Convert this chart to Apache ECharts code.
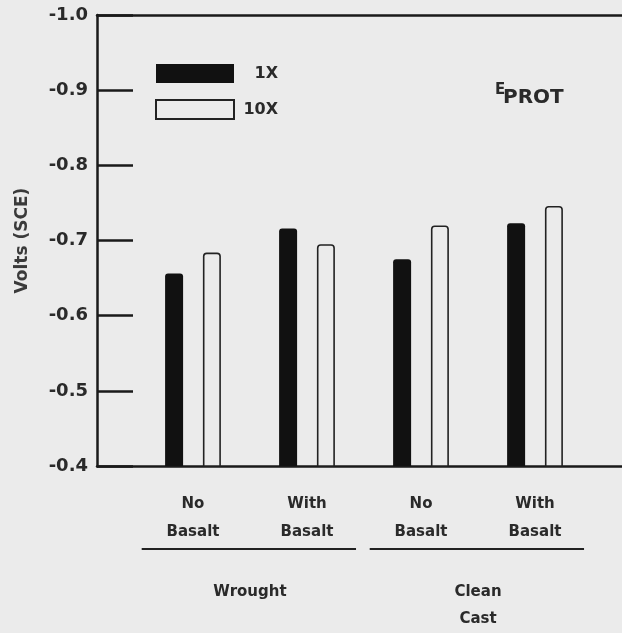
<!DOCTYPE html>
<html>
<head>
<meta charset="utf-8">
<script src="https://cdn.jsdelivr.net/npm/echarts@6/dist/echarts.min.js"></script>
<style>
html,body{margin:0;padding:0;background:#ebebeb;}
#chart{width:622px;height:633px;}
</style>
</head>
<body>
<div id="chart"></div>
<script>
// ---- data ----
const categories = ['No\nBasalt', 'With\nBasalt', 'No\nBasalt', 'With\nBasalt'];
const groups = ['Wrought', 'Clean\nCast'];
const groupSpans = [[0, 1], [2, 3]];
const seriesNames = ['1X', '10X'];
const values1X = [-0.656, -0.716, -0.675, -0.723];
const values10X = [-0.684, -0.695, -0.720, -0.746];
const yTicks = [-1.0, -0.9, -0.8, -0.7, -0.6, -0.5, -0.4];

const BG = '#ebebeb';
const INK = '#1a1a1a';
const TXT = '#2a2a2a';
const FONT = 'DejaVu Sans, sans-serif';

const catPos = categories.map((c, i) => i + 1);
const groupPos = groupSpans.map(s => (catPos[s[0]] + catPos[s[1]]) / 2);

const chart = echarts.init(document.getElementById('chart'), null, {renderer: 'canvas'});

const xMin = 0.158, xMax = 4.763;

const option = {
  backgroundColor: BG,
  animation: false,
  textStyle: {fontFamily: FONT},
  title: [
    {text: 'E', left: 490, top: 78, textStyle: {fontFamily: FONT, fontSize: 15, fontWeight: 'bold', color: TXT}},
    {text: 'PROT', left: 498, top: 83, textStyle: {fontFamily: FONT, fontSize: 20, fontWeight: 'bold', color: TXT}}
  ],
  legend: {
    data: seriesNames,
    orient: 'vertical',
    left: 150,
    top: 59,
    itemWidth: 78,
    itemHeight: 19,
    itemGap: 16,
    icon: 'rect',
    selectedMode: false,
    formatter: n => '{t|' + n + '}',
    textStyle: {
      fontFamily: FONT, fontSize: 16, fontWeight: 'bold', color: TXT,
      rich: {t: {fontFamily: FONT, fontSize: 16, fontWeight: 'bold', color: TXT, width: 39, align: 'right'}}
    }
  },
  grid: {left: 97, right: 0, top: 15, bottom: 159, containLabel: false},
  xAxis: [
    {
      type: 'value', min: xMin, max: xMax, position: 'bottom',
      axisLine: {show: true, onZero: false, lineStyle: {color: INK, width: 2.5}},
      axisTick: {show: false},
      splitLine: {show: false},
      axisLabel: {
        customValues: catPos,
        formatter: v => categories[Math.round(v) - 1] || '',
        fontFamily: FONT, fontSize: 15, fontWeight: 'bold', color: TXT,
        lineHeight: 28, margin: 24
      }
    },
    {
      type: 'value', min: xMin, max: xMax, position: 'bottom', offset: 105,
      axisLine: {show: false},
      axisTick: {show: false},
      splitLine: {show: false},
      axisLabel: {
        customValues: groupPos,
        formatter: v => { const i = groupPos.findIndex(p => Math.abs(p - v) < 1e-6); return i >= 0 ? groups[i] : ''; },
        fontFamily: FONT, fontSize: 15, fontWeight: 'bold', color: TXT,
        lineHeight: 27, margin: 8
      }
    },
    {
      type: 'value', min: xMin, max: xMax, position: 'top',
      axisLine: {show: true, onZero: false, lineStyle: {color: INK, width: 2.5}},
      axisTick: {show: false}, axisLabel: {show: false}, splitLine: {show: false}
    }
  ],
  yAxis: {
    type: 'value', min: -1.0, max: -0.4, interval: 0.1, inverse: true,
    name: 'Volts (SCE)', nameLocation: 'middle', nameRotate: 90, nameGap: 66,
    nameTextStyle: {fontFamily: FONT, fontSize: 17, fontWeight: 'bold', color: '#3a3a3a'},
    axisLine: {show: true, onZero: false, lineStyle: {color: INK, width: 2.5}},
    axisTick: {show: true, inside: true, length: 36, lineStyle: {color: INK, width: 2.5}},
    splitLine: {show: false},
    axisLabel: {
      formatter: v => v.toFixed(1),
      fontFamily: FONT, fontSize: 18, fontWeight: 'bold', color: TXT, margin: 9
    }
  },
  series: [
    {
      name: seriesNames[0], type: 'bar', xAxisIndex: 0,
      data: catPos.map((x, i) => [x, values1X[i]]),
      barWidth: 18, barGap: '110%',
      itemStyle: {color: '#111', borderColor: '#111', borderWidth: 0, borderRadius: [3, 3, 0, 0]}
    },
    {
      name: seriesNames[1], type: 'bar', xAxisIndex: 0,
      data: catPos.map((x, i) => [x, values10X[i]]),
      barWidth: 18, barGap: '110%',
      itemStyle: {color: BG, borderColor: '#222', borderWidth: 1.6, borderRadius: [3, 3, 0, 0]}
    }
  ]
};
chart.setOption(option);

// group underlines, placed from the axis scale
const axisBottomY = chart.convertToPixel({yAxisIndex: 0}, -0.4);
const lines = groupSpans.map(s => {
  const x1 = chart.convertToPixel({xAxisIndex: 0}, catPos[s[0]] - 0.45);
  const x2 = chart.convertToPixel({xAxisIndex: 0}, catPos[s[1]] + 0.43);
  return {
    type: 'line',
    shape: {x1: x1, y1: axisBottomY + 83, x2: x2, y2: axisBottomY + 83},
    style: {stroke: '#222', lineWidth: 2}
  };
});
chart.setOption({graphic: lines});
</script>
</body>
</html>
